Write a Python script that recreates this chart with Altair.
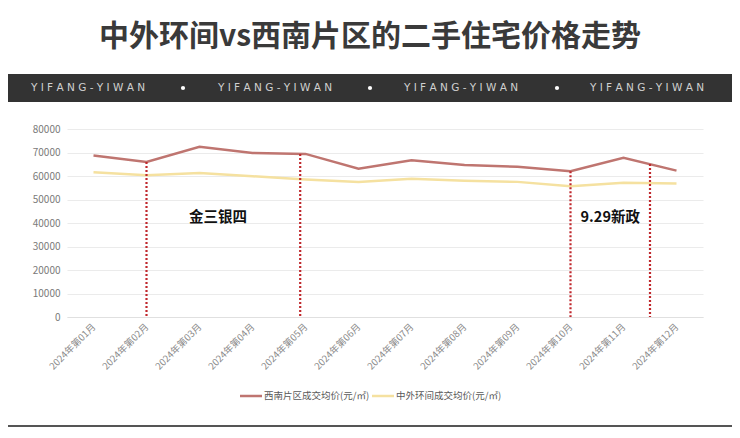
import altair as alt
import pandas as pd

# ---- data ----
months = ["2024年第01月", "2024年第02月", "2024年第03月", "2024年第04月",
          "2024年第05月", "2024年第06月", "2024年第07月", "2024年第08月",
          "2024年第09月", "2024年第10月", "2024年第11月", "2024年第12月"]
month_idx = list(range(1, 13))
series_names = ["西南片区成交均价(元/㎡)", "中外环间成交均价(元/㎡)"]
xinan = [68700, 66000, 72400, 69800, 69400, 63100, 66700, 64700, 63900, 62000, 67700, 62300]
zhongwai = [61600, 60300, 61300, 59900, 58500, 57500, 58800, 58000, 57500, 55600, 57100, 56800]
series_colors = ["#bf7570", "#f5e1a0"]
y_ticks = [0, 10000, 20000, 30000, 40000, 50000, 60000, 70000, 80000]

event_pos = [2, 4.9, 10, 11.5]
event_top = [66000, 69400, 62000, 65100]
notes = ["金三银四", "9.29新政"]
note_pos = [3.35, 10.75]
note_val = [42300, 42300]

title_text = "中外环间vs西南片区的二手住宅价格走势"
band_text = "Y I F A N G - Y I W A N"

FONT = "Noto Sans CJK SC"

rows = []
for i, m in enumerate(month_idx):
    rows.append({"m": m, "series": series_names[0], "v": xinan[i]})
    rows.append({"m": m, "series": series_names[1], "v": zhongwai[i]})
df = pd.DataFrame(rows)
ev = pd.DataFrame({"m": event_pos, "top": event_top})
nt = pd.DataFrame({"m": note_pos, "v": note_val, "t": notes})
one = pd.DataFrame({"k": [0]})

label_expr = "[" + ",".join("'" + s + "'" for s in months) + "][round(datum.value)-1]"

xscale = alt.Scale(domain=[0.5, 12.5], nice=False, zero=False)
yscale = alt.Scale(domain=[0, 80000], nice=False)
cscale = alt.Scale(domain=series_names, range=series_colors)

xaxis = alt.Axis(values=month_idx, labelExpr=label_expr, labelAngle=315,
                 labelAlign="right", labelBaseline="middle", labelPadding=8,
                 labelFontSize=9.5, labelColor="#8a8a8a", labelFont=FONT,
                 grid=False, ticks=False, domain=True, domainColor="#e0e0e0",
                 title=None, labelOverlap=False)
yaxis = alt.Axis(values=y_ticks, format="d", labelFontSize=10,
                 labelColor="#7a7a7a", labelFont=FONT, grid=True,
                 gridColor="#ebebeb", ticks=False, domain=False, title=None,
                 labelPadding=7, labelOverlap=False)

lines = alt.Chart(df).mark_line(strokeWidth=2.5).encode(
    x=alt.X("m:Q", scale=xscale, axis=xaxis),
    y=alt.Y("v:Q", scale=yscale, axis=yaxis),
    color=alt.Color("series:N", scale=cscale, legend=None),
    order=alt.Order("m:Q"),
)

rules = alt.Chart(ev).mark_rule(color="#c0282d", strokeWidth=2.2,
                                strokeDash=[2, 2]).encode(
    x=alt.X("m:Q", scale=xscale, axis=xaxis),
    y=alt.Y("top:Q", scale=yscale, axis=yaxis),
    y2=alt.datum(0),
)

note_marks = alt.Chart(nt).mark_text(font=FONT, fontSize=14.5, fontWeight="bold",
                                     color="#111111", align="center",
                                     baseline="middle").encode(
    x=alt.X("m:Q", scale=xscale, axis=xaxis),
    y=alt.Y("v:Q", scale=yscale, axis=yaxis),
    text="t:N",
)

# legend built from series names / colours
legend_layers = []
for name, col, x0 in zip(series_names, series_colors, [173, 305]):
    legend_layers.append(alt.Chart(one).mark_rule(color=col, strokeWidth=2.5).encode(
        x=alt.value(x0), x2=alt.value(x0 + 22), y=alt.value(267)))
    legend_layers.append(alt.Chart(one).mark_text(
        font=FONT, fontSize=9.5, color="#595959", align="left",
        baseline="middle", text=name).encode(
        x=alt.value(x0 + 24), y=alt.value(267)))

title = alt.Chart(one).mark_text(font=FONT, fontSize=30, fontWeight="bold",
                                 color="#3a3a3a", align="center",
                                 baseline="middle", text=title_text).encode(
    x=alt.value(303), y=alt.value(-92))

band = alt.Chart(one).mark_rect(color="#333333").encode(
    x=alt.value(-59), x2=alt.value(665), y=alt.value(-55), y2=alt.value(-27))

band_layers = []
for cx in [21, 208, 394, 580]:
    band_layers.append(alt.Chart(one).mark_text(
        font="DejaVu Sans", fontSize=10.5, color="#d0d0d0", align="center",
        baseline="middle", text=band_text).encode(
        x=alt.value(cx), y=alt.value(-41)))
for cx in [116, 303, 490]:
    band_layers.append(alt.Chart(one).mark_point(
        filled=True, color="#ffffff", size=18, opacity=1).encode(
        x=alt.value(cx), y=alt.value(-41)))

bottom_line = alt.Chart(one).mark_rule(color="#555555", strokeWidth=2).encode(
    x=alt.value(-59), x2=alt.value(665), y=alt.value(297))

chart = alt.layer(lines, rules, note_marks, band, *band_layers, title,
                  *legend_layers, bottom_line).properties(
    width=636, height=188,
    autosize=alt.AutoSizeParams(type="none"),
    padding={"left": 59, "top": 121, "right": 29, "bottom": 111},
).configure(font=FONT).configure_view(stroke=None)

chart.save("out.html", embed_options={"renderer": "svg", "actions": False})
